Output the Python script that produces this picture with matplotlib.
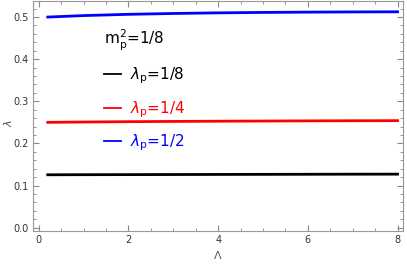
import matplotlib
matplotlib.use("Agg")
import matplotlib.pyplot as plt
from matplotlib.ticker import MultipleLocator

Lam = [0.2, 1, 2, 3, 4, 5, 6, 7, 8]
lam_18 = [0.1255, 0.1257, 0.1259, 0.1261, 0.1263, 0.1265, 0.1267, 0.1269, 0.127]
lam_14 = [0.250, 0.2508, 0.2516, 0.2522, 0.2527, 0.2531, 0.2535, 0.2538, 0.254]
lam_12 = [0.500, 0.5035, 0.5065, 0.5085, 0.5100, 0.5110, 0.5117, 0.5122, 0.5125]
labels = [r'$\lambda_\mathrm{p}$=1/8', r'$\lambda_\mathrm{p}$=1/4', r'$\lambda_\mathrm{p}$=1/2']
colors = ['black', 'red', 'blue']

plt.rcParams['mathtext.fontset'] = 'dejavusans'

fig = plt.figure(figsize=(4.07, 2.64), dpi=100)
ax = fig.add_axes([0.081, 0.125, 0.909, 0.871])

for ys, lab, c in zip([lam_18, lam_14, lam_12], labels, colors):
    ax.plot(Lam, ys, color=c, lw=2.0, label=lab)

ax.set_xlim(-0.13, 8.12)
ax.set_ylim(-0.008, 0.538)
ax.xaxis.set_major_locator(MultipleLocator(2))
ax.xaxis.set_minor_locator(MultipleLocator(0.5))
ax.yaxis.set_major_locator(MultipleLocator(0.1))
ax.yaxis.set_minor_locator(MultipleLocator(0.02))
ax.yaxis.set_major_formatter(matplotlib.ticker.FormatStrFormatter('%.1f'))
ax.tick_params(which='both', direction='in', top=True, right=True,
               color='#888888', labelsize=7, labelcolor='#333333', pad=3)
ax.tick_params(which='major', length=4)
ax.tick_params(which='minor', length=2)
for s in ax.spines.values():
    s.set_color('#999999')
    s.set_linewidth(0.8)

ax.set_xlabel(r'$\Lambda$', fontsize=8, color='#555555', labelpad=3)
ax.set_ylabel(r'$\lambda$', fontsize=8, color='#555555')
ax.yaxis.set_label_coords(-0.052, 0.47)

leg = ax.legend(loc='upper left', bbox_to_anchor=(0.155, 0.945), frameon=False,
                title=r'm$_\mathrm{p}^2$=1/8', title_fontsize=11, fontsize=11,
                handlelength=1.1, handletextpad=0.6, labelspacing=0.85,
                labelcolor='linecolor', alignment='left')
for line in leg.get_lines():
    line.set_linewidth(1.3)

fig.savefig('out.png', dpi=100)
